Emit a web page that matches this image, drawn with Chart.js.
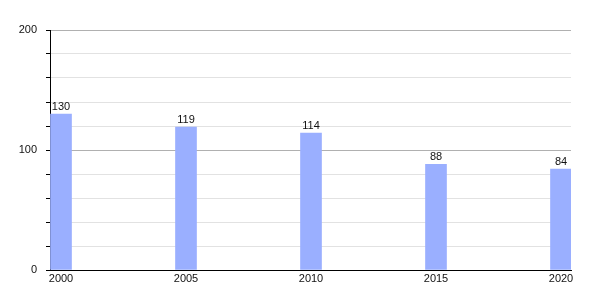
<!DOCTYPE html>
<html>
<head>
<meta charset="utf-8">
<script src="https://cdn.jsdelivr.net/npm/chart.js@4/dist/chart.umd.min.js"></script>
<style>
  html, body { margin: 0; padding: 0; background: #fff; }
  #wrap { width: 600px; height: 300px; }
</style>
</head>
<body>
<div id="wrap"><canvas id="c"></canvas></div>
<script>
const years = [2000, 2005, 2010, 2015, 2020];
const values = [130, 119, 114, 88, 84];
const yTickLabels = [0, 100, 200];

const points = years.map((y, i) => ({ x: y, y: values[i] }));

const valueLabels = {
  id: 'valueLabels',
  afterDatasetsDraw(chart) {
    const ctx = chart.ctx;
    const meta = chart.getDatasetMeta(0);
    ctx.save();
    ctx.font = '11px "Liberation Sans", Arial, sans-serif';
    ctx.fillStyle = '#111';
    ctx.textAlign = 'center';
    ctx.textBaseline = 'bottom';
    meta.data.forEach((bar, i) => {
      ctx.fillText(String(values[i]), bar.x, bar.y - 2);
    });
    ctx.restore();
  }
};

Chart.defaults.font.family = '"Liberation Sans", Arial, sans-serif';
Chart.defaults.font.size = 11;
Chart.defaults.color = '#111';

new Chart(document.getElementById('c'), {
  type: 'bar',
  data: {
    datasets: [{
      data: points,
      backgroundColor: '#9aafff',
      borderWidth: 0,
      barThickness: 21
    }]
  },
  options: {
    responsive: true,
    maintainAspectRatio: false,
    animation: false,
    layout: { padding: { top: 30, right: 29, left: 0, bottom: 0 } },
    plugins: { legend: { display: false }, tooltip: { enabled: false } },
    scales: {
      x: {
        type: 'linear',
        offset: false,
        min: 1999.56,
        max: 2020.4,
        afterBuildTicks(scale) { scale.ticks = years.map(v => ({ value: v })); },
        afterFit(scale) { scale.height = 30; },
        grid: { display: false, drawTicks: false, offset: false },
        border: { color: '#000', width: 1 },
        ticks: { padding: 2, callback: v => String(v), maxRotation: 0, autoSkip: false }
      },
      y: {
        min: 0,
        max: 200,
        afterFit(scale) { scale.width = 50; },
        ticks: {
          stepSize: 20,
          padding: 9,
          callback: v => (yTickLabels.includes(v) ? String(v) : '')
        },
        border: { color: '#000', width: 1 },
        grid: {
          color: ctx => (ctx.tick && ctx.tick.value % 100 === 0 ? '#b0b0b0' : '#e2e2e2'),
          tickColor: '#000',
          tickLength: 4,
          drawTicks: true
        }
      }
    }
  },
  plugins: [valueLabels]
});
</script>
</body>
</html>
